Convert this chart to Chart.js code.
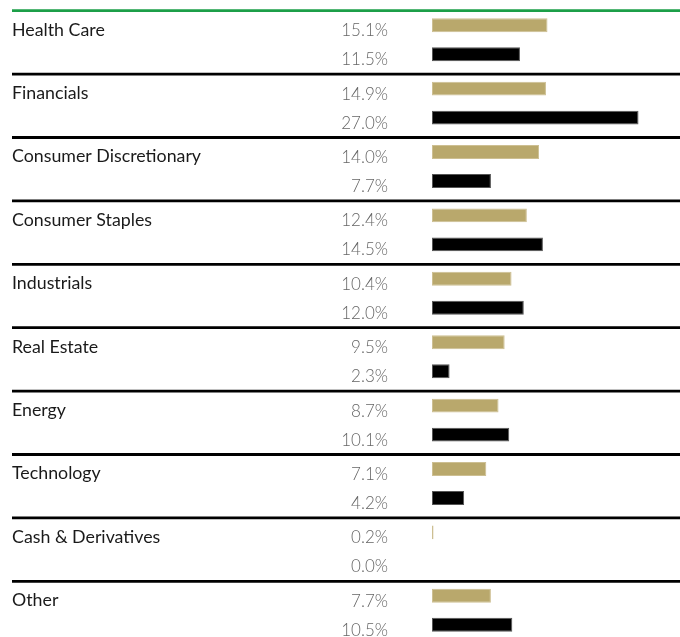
<!DOCTYPE html>
<html>
<head>
<meta charset="utf-8">
<script src="https://cdn.jsdelivr.net/npm/chart.js@4/dist/chart.umd.min.js"></script>
<style>
  html, body { margin: 0; padding: 0; background: #fff; overflow: hidden; }
  #wrap { width: 680px; height: 637px; overflow: hidden; }
</style>
</head>
<body>
<div id="wrap"><canvas id="sectors" width="680" height="643"></canvas></div>
<script>
// sector weights, fund vs benchmark
const categories = ['Health Care', 'Financials', 'Consumer Discretionary', 'Consumer Staples', 'Industrials',
    'Real Estate', 'Energy', 'Technology', 'Cash & Derivatives', 'Other'];
const fundValues = [15.1, 14.9, 14.0, 12.4, 10.4, 9.5, 8.7, 7.1, 0.2, 7.7];
const benchmarkValues = [11.5, 27.0, 7.7, 14.5, 12.0, 2.3, 10.1, 4.2, 0.0, 10.5];

const GOLD = '#b9a86c';
const GREEN = '#1c9f48';

// separators + labels, drawn from the scales
const tablePlugin = {
    id: 'table',
    afterDraw(chart) {
        const ctx = chart.ctx;
        const y = chart.scales.y;
        const band = y.getPixelForValue(1) - y.getPixelForValue(0);
        const shift = 2.7; // bars sit a little above the band centre
        ctx.save();
        categories.forEach((name, i) => {
            const top = y.getPixelForValue(i) - band / 2 + shift;
            ctx.beginPath();
            ctx.lineWidth = 2.8;
            ctx.strokeStyle = i === 0 ? GREEN : '#000';
            ctx.moveTo(12, top);
            ctx.lineTo(680, top);
            ctx.stroke();

            const goldBar = chart.getDatasetMeta(0).data[i];
            const blackBar = chart.getDatasetMeta(1).data[i];

            ctx.fillStyle = '#1a1a1a';
            ctx.font = '17.8px Lato, "Noto Sans", sans-serif';
            ctx.textAlign = 'left';
            ctx.textBaseline = 'alphabetic';
            ctx.fillText(name, 12, goldBar.y + 10.5);

            ctx.fillStyle = '#666';
            ctx.font = '300 17px Lato, sans-serif';
            ctx.textAlign = 'right';
            ctx.fillText(fundValues[i].toFixed(1) + '%', 388, goldBar.y + 11);
            ctx.fillText(benchmarkValues[i].toFixed(1) + '%', 388, blackBar.y + 11);
        });
        ctx.restore();
    }
};

new Chart(document.getElementById('sectors').getContext('2d'), {
    type: 'bar',
    data: {
        labels: categories,
        datasets: [
            {
                label: 'Fund',
                data: fundValues,
                backgroundColor: GOLD,
                borderColor: '#cdbf92',
                borderWidth: c => (c.raw > 0 ? 1 : 0),
                borderSkipped: false
            },
            {
                label: 'Benchmark',
                data: benchmarkValues,
                backgroundColor: '#000',
                borderColor: '#555',
                borderWidth: c => (c.raw > 0 ? 1 : 0),
                borderSkipped: false
            }
        ]
    },
    options: {
        indexAxis: 'y',
        responsive: false,
        animation: false,
        categoryPercentage: 0.915,
        barPercentage: 0.48,
        layout: { padding: { left: 432, right: 4, top: 8, bottom: 1 } },
        scales: {
            x: { display: false, min: 0, max: 31.9 },
            y: { display: false }
        },
        plugins: {
            legend: { display: false },
            tooltip: { enabled: false }
        }
    },
    plugins: [tablePlugin]
});
</script>
</body>
</html>
